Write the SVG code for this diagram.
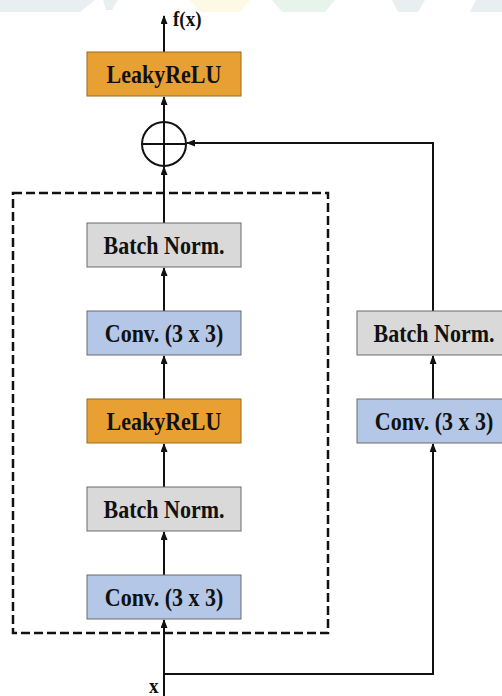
<svg xmlns="http://www.w3.org/2000/svg" width="502" height="696" viewBox="0 0 502 696">
<style>
.box{stroke:#6b6b6b;stroke-width:1}
.orange{fill:#E9A033;stroke:#9a6a20}
.gray{fill:#D9D9D9}
.blue{fill:#B4C7E7}
.lbl{font-family:"Liberation Serif","Times New Roman",serif;font-weight:bold;font-size:22px;fill:#111;text-anchor:middle}
.io{font-family:"Liberation Serif","Times New Roman",serif;font-weight:bold;font-size:19px;fill:#111}
.ln{fill:none;stroke:#111;stroke-width:2}
</style>
<defs>
<marker id="ah" markerUnits="userSpaceOnUse" markerWidth="9" markerHeight="7" refX="8" refY="3.5" orient="auto">
<path d="M0,0 L9,3.5 L0,7 z" fill="#111"/>
</marker>
</defs>
<rect width="502" height="696" fill="#fff"/>
<g id="watermark" opacity="0.9">
<polygon points="0,0 95,0 80,12 0,12" fill="#e7eef0"/>
<polygon points="103,0 118,0 112,10 106,10" fill="#e7eef0"/>
<polygon points="190,0 250,0 240,12 200,12" fill="#fdf9e2"/>
<polygon points="272,0 335,0 325,12 282,12" fill="#e5f3eb"/>
<polygon points="392,0 425,0 418,12 398,12" fill="#e7eef0"/>
<polygon points="476,0 502,0 502,12 470,12" fill="#e7eef0"/>
</g>
<rect id="dashed-block" x="13" y="193" width="315" height="440" fill="none" stroke="#111" stroke-width="2.5" stroke-dasharray="9,4"/>
<g id="connectors">
<line class="ln" x1="164" y1="52" x2="164" y2="16" marker-end="url(#ah)"/>
<line class="ln" x1="164" y1="122" x2="164" y2="97" marker-end="url(#ah)"/>
<line class="ln" x1="164" y1="223" x2="164" y2="167" marker-end="url(#ah)"/>
<line class="ln" x1="164" y1="311" x2="164" y2="268" marker-end="url(#ah)"/>
<line class="ln" x1="164" y1="399" x2="164" y2="356" marker-end="url(#ah)"/>
<line class="ln" x1="164" y1="487" x2="164" y2="444" marker-end="url(#ah)"/>
<line class="ln" x1="164" y1="575" x2="164" y2="532" marker-end="url(#ah)"/>
<line class="ln" x1="164" y1="696" x2="164" y2="620" marker-end="url(#ah)"/>
<polyline class="ln" points="164,674 433,674 433,444" marker-end="url(#ah)"/>
<line class="ln" x1="433" y1="399" x2="433" y2="356" marker-end="url(#ah)"/>
<polyline class="ln" points="433,311 433,143 187,143" marker-end="url(#ah)"/>
</g>
<g id="out-leaky">
<rect class="box orange" x="87" y="52" width="154" height="44"/>
<text class="lbl" transform="translate(164,83) scale(1,1.15)">LeakyReLU</text>
</g>
<g id="fx"><text class="io" transform="translate(173,26) scale(1,1.1)">f(x)</text></g>
<g id="sum">
<circle cx="164" cy="144" r="22" fill="#fff" stroke="#111" stroke-width="2"/>
<line x1="142" y1="144" x2="186" y2="144" stroke="#111" stroke-width="2"/>
<line x1="164" y1="122" x2="164" y2="166" stroke="#111" stroke-width="2"/>
</g>
<g id="bn2">
<rect class="box gray" x="87" y="223" width="154" height="44"/>
<text class="lbl" transform="translate(164,254) scale(1,1.15)">Batch Norm.</text>
</g>
<g id="conv2">
<rect class="box blue" x="87" y="311" width="154" height="44"/>
<text class="lbl" transform="translate(164,342) scale(1,1.15)">Conv. (3 x 3)</text>
</g>
<g id="leaky1">
<rect class="box orange" x="87" y="399" width="154" height="44"/>
<text class="lbl" transform="translate(164,430) scale(1,1.15)">LeakyReLU</text>
</g>
<g id="bn1">
<rect class="box gray" x="87" y="487" width="154" height="44"/>
<text class="lbl" transform="translate(164,518) scale(1,1.15)">Batch Norm.</text>
</g>
<g id="conv1">
<rect class="box blue" x="87" y="575" width="154" height="44"/>
<text class="lbl" transform="translate(164,606) scale(1,1.15)">Conv. (3 x 3)</text>
</g>
<g id="bn-skip">
<rect class="box gray" x="357" y="311" width="154" height="44"/>
<text class="lbl" transform="translate(434,342) scale(1,1.15)">Batch Norm.</text>
</g>
<g id="conv-skip">
<rect class="box blue" x="357" y="399" width="154" height="44"/>
<text class="lbl" transform="translate(434,430) scale(1,1.15)">Conv. (3 x 3)</text>
</g>
<g id="x-in"><text class="io" transform="translate(149,693) scale(1,1.1)">x</text></g>
</svg>
